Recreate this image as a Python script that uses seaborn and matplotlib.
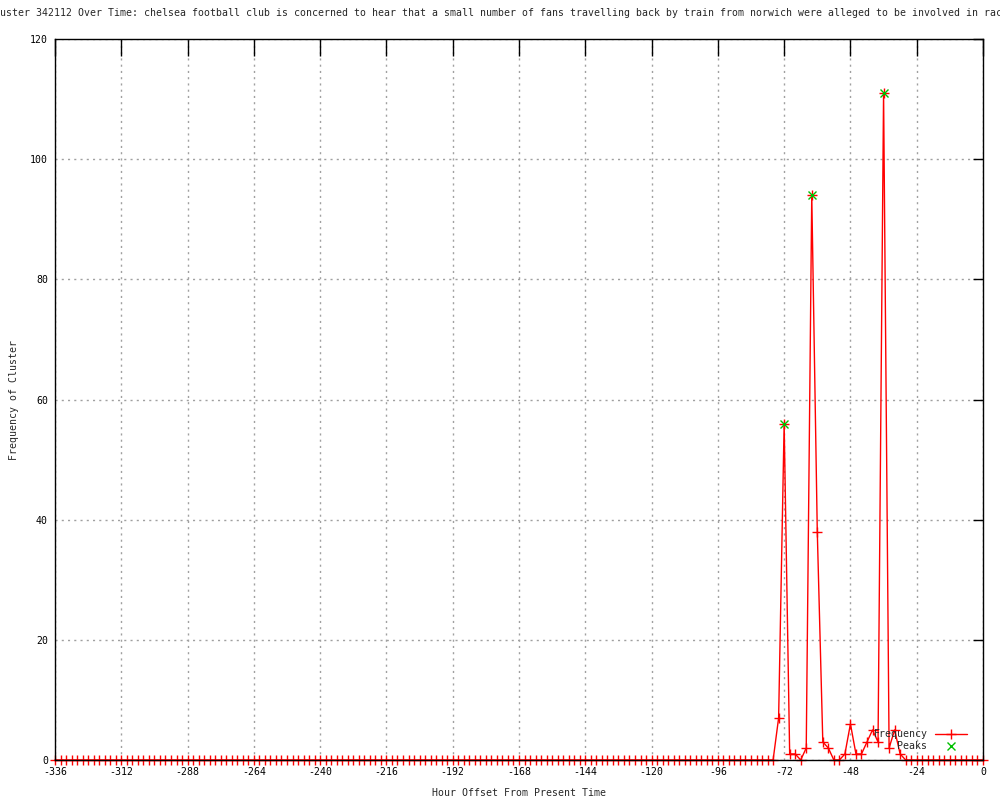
import numpy as np
import matplotlib
matplotlib.use("Agg")
import matplotlib.pyplot as plt
import seaborn as sns

# hour offsets, one bin every 2 hours
hours = list(range(-336, 1, 2))

# frequency per bin (all zero before -74)
freq = ([0] * 131 +
        [7, 56, 1, 1, 0, 2, 94, 38, 3, 2, 0, 0, 1, 6, 1, 1, 3, 5, 3, 111, 2, 5, 1, 0] +
        [0] * 14)

peak_hours = [-72, -62, -36]
peak_freq = [56, 94, 111]

title = ("Cluster 342112 Over Time: chelsea football club is concerned to hear that a small "
         "number of fans travelling back by train from norwich were alleged to be involved in racist")

sns.set_style("white")
plt.rcParams['font.family'] = ['DejaVu Sans Mono']
plt.rcParams['font.size'] = 7.1
plt.rcParams['axes.unicode_minus'] = False

fig = plt.figure(figsize=(10, 8), dpi=100)
ax = fig.add_axes([0.055, 0.05, 0.928, 0.90125])

sns.lineplot(x=hours, y=freq, ax=ax, color="red", linewidth=1, marker="+",
             markersize=7, markeredgewidth=1, markeredgecolor="red",
             label="Frequency", clip_on=False)
ax.plot(peak_hours, peak_freq, linestyle="none", marker="x", color="#00c000",
        markersize=6, markeredgewidth=1, label="Peaks", zorder=3)

ax.set_xlim(-336, 0)
ax.set_ylim(0, 120)
ax.set_xticks(range(-336, 1, 24))
ax.set_yticks(range(0, 121, 20))

ax.grid(True, color="#a0a0a0", linestyle=(0, (1.5, 3)), linewidth=1)
ax.set_axisbelow(True)
for s in ax.spines.values():
    s.set_color("black")
    s.set_linewidth(1)
    s.set_zorder(2.5)

ax.tick_params(axis="both", direction="in", top=True, right=True, colors="black",
               labelsize=7.1, width=1, pad=5)
ax.tick_params(axis="x", length=12)
ax.tick_params(axis="y", length=7)

ax.set_xlabel("Hour Offset From Present Time", fontsize=7.1, labelpad=8)
ax.set_ylabel("Frequency of Cluster", fontsize=7.1, labelpad=8)

fig.text(-0.012, 1 - 13 / 800, title, ha="left", va="center", fontsize=7.1)

leg = ax.legend(loc="lower right", bbox_to_anchor=(0.988, 0.005), frameon=False,
                markerfirst=False, handlelength=3.2, handletextpad=0.8,
                labelspacing=0.25, borderpad=0, fontsize=7.1)

fig.savefig("out.png", dpi=100)
